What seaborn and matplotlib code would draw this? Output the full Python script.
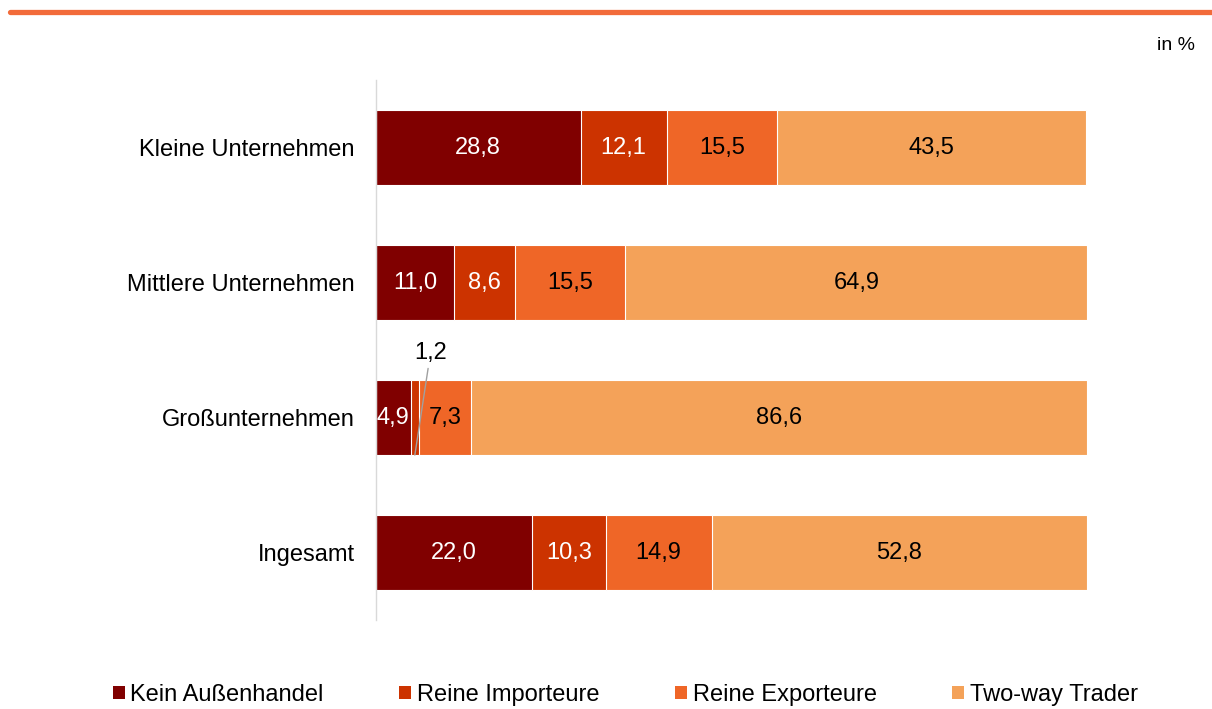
import numpy as np
import pandas as pd
import seaborn as sns
import matplotlib.pyplot as plt
from matplotlib.lines import Line2D
from matplotlib.patches import Patch

categories = ['Kleine Unternehmen', 'Mittlere Unternehmen', 'Großunternehmen', 'Ingesamt']
series = ['Kein Außenhandel', 'Reine Importeure', 'Reine Exporteure', 'Two-way Trader']
kein = [28.8, 11.0, 4.9, 22.0]
importeure = [12.1, 8.6, 1.2, 10.3]
exporteure = [15.5, 15.5, 7.3, 14.9]
two_way = [43.5, 64.9, 86.6, 52.8]

colors = ['#800000', '#cc3300', '#ef6627', '#f4a259']
text_colors = ['white', 'white', 'black', 'black']

sns.set_style('white')
plt.rcParams['font.family'] = ['Liberation Sans', 'DejaVu Sans']
plt.rcParams['text.color'] = 'black'
plt.rcParams['ytick.color'] = 'black'

df = pd.DataFrame({'cat': categories, series[0]: kein, series[1]: importeure,
                   series[2]: exporteure, series[3]: two_way})
cum = df[series].cumsum(axis=1)

fig = plt.figure(figsize=(12.12, 7.09), dpi=100)
ax = fig.add_axes([0.310, 0.1255, 0.587, 0.7615])

# draw cumulative totals back to front -> stacked look
for i in range(len(series) - 1, -1, -1):
    sns.barplot(x=cum[series[i]], y=df['cat'], color=colors[i], orient='h',
                width=0.556, edgecolor='white', linewidth=0.8, ax=ax, saturation=1)

# value labels
for j, cat in enumerate(categories):
    left = 0
    for i, s in enumerate(series):
        v = df.loc[j, s]
        if v >= 2:
            ax.text(left + v / 2, j, f'{v:.1f}'.replace('.', ','), ha='center', va='center',
                    color=text_colors[i], fontsize=17)
        left += v

# small segment label with leader line
ax.annotate('1,2', xy=(kein[2] + importeure[2] / 2, 2 + 0.278), xytext=(7.7, 1.52),
            ha='center', va='center', fontsize=17, color='black',
            arrowprops=dict(arrowstyle='-', color='#a0a0a0', lw=1, shrinkA=1, shrinkB=0))

ax.set_xlim(0, 100)
ax.set_ylim(3.5, -0.5)
ax.set_xlabel('')
ax.set_ylabel('')
ax.set_xticks([])
ax.tick_params(axis='y', length=0, pad=15, labelsize=17, labelcolor='black')
for side in ['top', 'right', 'bottom']:
    ax.spines[side].set_visible(False)
ax.spines['left'].set_color('#d9d9d9')
ax.spines['left'].set_linewidth(1)

# top rule and unit note
fig.add_artist(Line2D([10 / 1212, 1.0], [1 - 12 / 709, 1 - 12 / 709], color='#f26b3a', lw=3.8))
fig.text(1195 / 1212, 1 - 45 / 709, 'in %', ha='right', va='center', fontsize=14)

handles = [Patch(facecolor=c, edgecolor='none') for c in colors]
fig.legend(handles, series, loc='center', bbox_to_anchor=(0.516, 1 - 695 / 709), ncol=4,
           frameon=False, fontsize=17, handlelength=0.5, handleheight=0.5,
           handletextpad=0.25, columnspacing=3.2)

fig.savefig('out.png', dpi=100)
